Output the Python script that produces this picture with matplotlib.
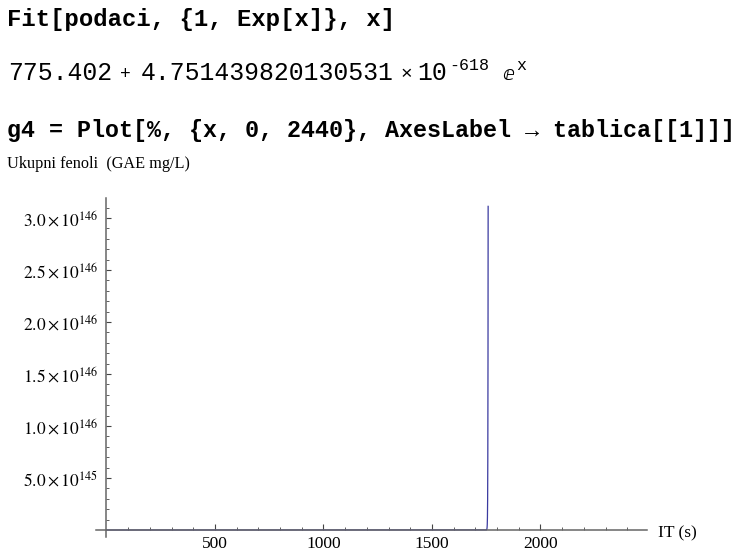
import numpy as np
import matplotlib.pyplot as plt
from matplotlib.ticker import FuncFormatter

# fit result: y = a + b * e^x, b written as mantissa * 10^exponent
fit_a = 775.402
fit_b_mantissa = 4.751439820130531
fit_b_exponent = -618

x_range = (0, 2440)
y_range = (0, 3.13e146)

x_major = [500, 1000, 1500, 2000]
x_minor = [100, 200, 300, 400, 600, 700, 800, 900, 1100, 1200, 1300, 1400,
           1600, 1700, 1800, 1900, 2100, 2200, 2300, 2400]
y_major = [0.5e146, 1.0e146, 1.5e146, 2.0e146, 2.5e146, 3.0e146]
y_minor = [k * 0.1e146 for k in range(1, 32) if k % 5 != 0]

x_label = "IT (s)"
y_label = "Ukupni fenoli  (GAE mg/L)"

plt.rcParams['mathtext.fontset'] = 'stix'

W, H = 737, 555
fig = plt.figure(figsize=(W / 100, H / 100), dpi=100)

def px(x, y):
    return x / W, 1 - y / H

mono = ['Liberation Mono', 'DejaVu Sans Mono']
serif = ['Liberation Serif', 'DejaVu Serif']

# notebook input / output cells
fig.text(*px(7, 26), "Fit[podaci, {1, Exp[x]}, x]", family=mono,
         weight='bold', fontsize=17.2, va='baseline')
fig.text(*px(8, 80), "775.402", family=mono, fontsize=17.8, va='baseline')
fig.text(*px(120, 79), "+", family=mono, fontsize=13, va='baseline')
fig.text(*px(141, 80), f"{fit_b_mantissa:.15f}", family=mono,
         fontsize=17.8, va='baseline')
fig.text(*px(400, 79), "\u00d7", family=mono, fontsize=14, va='baseline')
fig.text(*px(417, 80), "10", family=mono, fontsize=17.8, va='baseline')
fig.text(*px(449, 70), f"{fit_b_exponent}", family=mono, fontsize=12,
         va='baseline')
fig.text(*px(502, 80), "\u2147", family=['DejaVu Sans'], fontsize=14,
         va='baseline')
fig.text(*px(516, 70), "x", family=mono, fontsize=12, va='baseline')
fig.text(*px(7, 137),
         "g4 = Plot[%, {x, 0, 2440}, AxesLabel \u2192 tablica[[1]]]",
         family=mono, weight='bold', fontsize=16.8, va='baseline')

# axes box includes 2% padding around the plot range
xpad = 0.02 * (x_range[1] - x_range[0])
ypad = 0.02 * (y_range[1] - y_range[0])
ax = fig.add_axes([0.1301, 0.0333, 0.7472, 0.6099])
ax.set_xlim(x_range[0] - xpad, x_range[1] + xpad)
ax.set_ylim(y_range[0] - ypad, y_range[1] + ypad)

x = np.linspace(x_range[0], x_range[1], 400001)
log_term = np.log10(fit_b_mantissa) + fit_b_exponent + x * np.log10(np.e)
y = fit_a + 10.0 ** np.minimum(log_term, 300)
y = np.where(y <= y_range[1], y, np.nan)
ax.plot(x, y, color='#3a3aa0', lw=0.9)

for side in ['top', 'right']:
    ax.spines[side].set_visible(False)
for side in ['left', 'bottom']:
    ax.spines[side].set_position(('data', 0))
    ax.spines[side].set_color('#666666')
    ax.spines[side].set_linewidth(1.1)

ax.set_xticks(x_major)
ax.set_xticks(x_minor, minor=True)
ax.set_yticks(y_major)
ax.set_yticks(y_minor, minor=True)

def sci(v, pos):
    e = int(np.floor(np.log10(v)))
    m = v / 10.0 ** e
    return rf"${m:.1f}\times10^{{{e}}}$"

ax.yaxis.set_major_formatter(FuncFormatter(sci))
ax.tick_params(axis='both', which='both', direction='in', color='#444444',
               labelsize=12.5)
ax.tick_params(axis='x', which='major', length=4.5, width=0.8, pad=4)
ax.tick_params(axis='x', which='minor', length=2.3, width=0.6)
ax.tick_params(axis='y', which='major', length=3.8, width=0.8, pad=6)
ax.tick_params(axis='y', which='minor', length=2.3, width=0.6)
for lab in ax.get_xticklabels():
    lab.set_family(serif)

fig.text(*px(658, 533), x_label, family=serif, fontsize=12.5, va='center')
fig.text(*px(7, 164), y_label, family=serif, fontsize=11.7, va='center')

fig.savefig("out.png", dpi=100)
